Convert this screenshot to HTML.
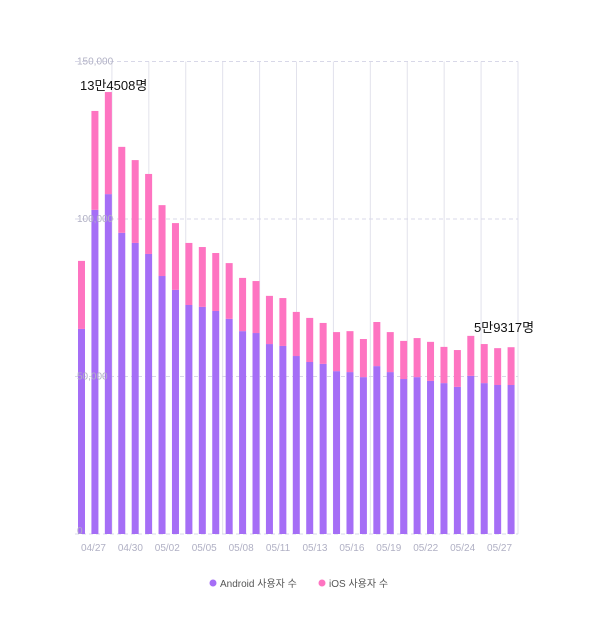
<!DOCTYPE html>
<html><head><meta charset="utf-8"><style>
body{margin:0;background:#fff;font-family:"Liberation Sans","Noto Sans CJK KR",sans-serif}
</style></head><body>
<svg id="chart" width="600" height="621" xmlns="http://www.w3.org/2000/svg" style="display:block">
<g id="grid"></g><g id="bars"></g><g id="labels"></g>
<g>
<g><circle cx="213" cy="583" r="3.5" fill="#a56ef6"/><text x="220" y="587" font-size="10" fill="#555">Android 사용자 수</text></g>
<g><circle cx="322" cy="583" r="3.5" fill="#fe74c1"/><text x="329" y="587" font-size="10" fill="#555">iOS 사용자 수</text></g>
</g>
</svg>
<script>
const categories=[...Array(33)].map((_,i)=>'d'+i);
const totalValues=[86.7,134.3,140.3,122.9,118.7,114.3,104.4,98.7,92.4,91.1,89.2,86,81.3,80.3,75.6,74.9,70.5,68.6,67,64.1,64.4,61.9,67.3,64.1,61.3,62.2,61,59.4,58.4,62.9,60.3,59,59.3];
const androidValues=[65.1,102.9,107.9,95.6,92.4,88.9,81.9,77.5,72.7,72.1,70.8,68.3,64.4,63.8,60.3,59.7,56.5,54.6,54,51.7,51.4,49.8,53.3,51.4,49.2,49.8,48.6,47.9,46.7,50.2,47.9,47.3,47.3];
const xLabels=['04/27','04/30','05/02','05/05','05/08','05/11','05/13','05/16','05/19','05/22','05/24','05/27'];
const yTicks=[0,50,100,150];
const yTickLabels=['0','50,000','100,000','150,000'];
const NS='http://www.w3.org/2000/svg';
const X0=75,X1=518,Y0=534,KPX=3.15;
const y=v=>Y0-v*KPX;
const step=(X1-X0)/categories.length;
const xBar=i=>X0+3+i*step;
function mk(t,a,p){const e=document.createElementNS(NS,t);for(const k in a)e.setAttribute(k,a[k]);p.appendChild(e);return e;}
const grid=document.getElementById('grid'),bars=document.getElementById('bars'),labels=document.getElementById('labels');
const band=(X1-X0)/xLabels.length;
for(let k=1;k<=xLabels.length;k++){const l=mk('line',{x1:X0+k*band,x2:X0+k*band,y1:y(150),y2:Y0,stroke:'#e2e2ec','stroke-width':1},grid);

}
yTicks.forEach((t,i)=>{const l=mk('line',{x1:X0,x2:X1,y1:y(t),y2:y(t),stroke:'#d8d8e8','stroke-dasharray':'4,3'},grid);

});
categories.forEach((c,i)=>{
const a=mk('rect',{x:xBar(i),y:y(androidValues[i]),width:7,height:androidValues[i]*KPX,fill:'#a56ef6'},bars);


const s=mk('rect',{x:xBar(i),y:y(totalValues[i]),width:7,height:(totalValues[i]-androidValues[i])*KPX,fill:'#fe74c1'},bars);

});
yTicks.forEach((t,i)=>{const e=mk('text',{x:X0+2,y:y(t)+(t===0?-0:3),'font-size':10,fill:'#b0b0c4'},labels);e.textContent=yTickLabels[i];

});
xLabels.forEach((t,k)=>{const e=mk('text',{x:X0+(k+0.5)*band,y:551,'font-size':10,fill:'#b0b0c4','text-anchor':'middle'},labels);e.textContent=t;

});
const m1=mk('text',{x:80,y:90,'font-size':13,fill:'#111'},labels);m1.textContent='13만4508명';


const m2=mk('text',{x:474,y:332,'font-size':13,fill:'#111'},labels);m2.textContent='5만9317명';


</script>
</body></html>
